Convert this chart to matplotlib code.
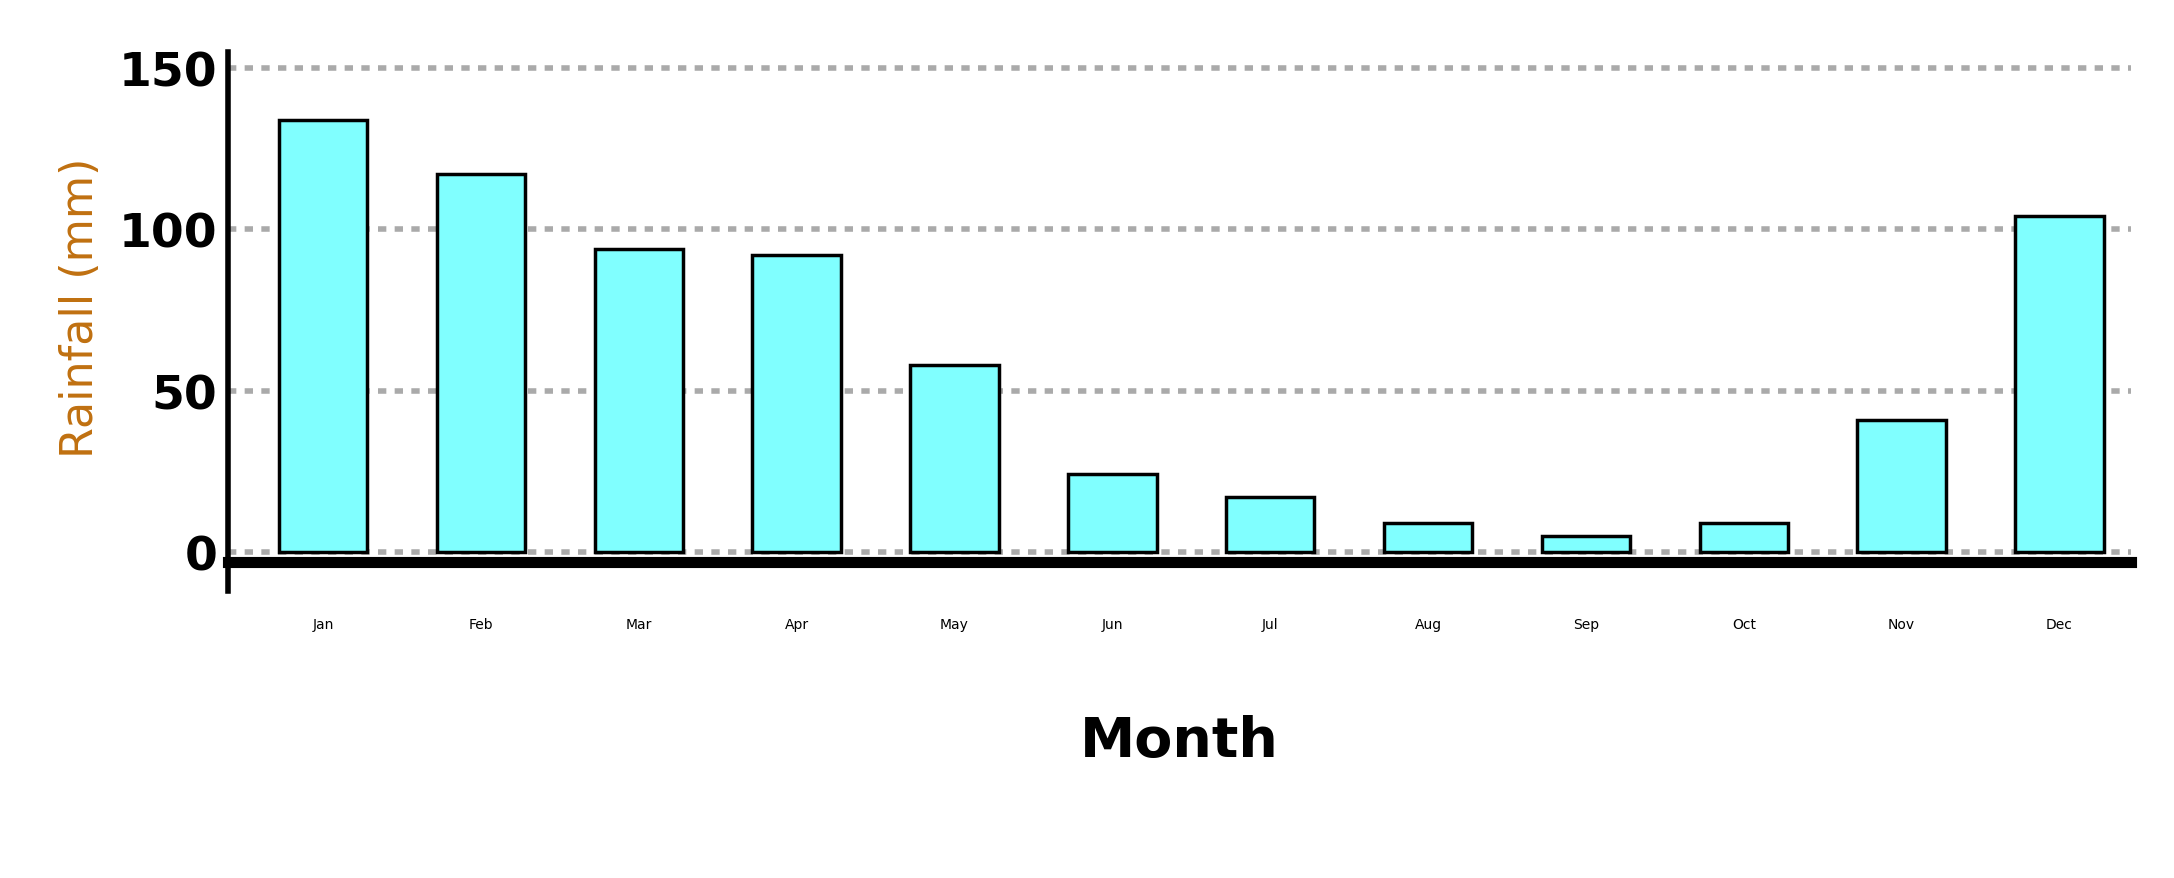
import matplotlib
matplotlib.use("Agg")
import matplotlib.pyplot as plt

months = ["Jan","Feb","Mar","Apr","May","Jun","Jul","Aug","Sep","Oct","Nov","Dec"]
rainfall = [134, 117, 94, 92, 58, 24, 17, 9, 5, 9, 41, 104]

fig = plt.figure(figsize=(21.74, 8.79), dpi=100)
ax = fig.add_axes([0.105, 0.36, 0.875, 0.58])
x = list(range(len(months)))
ax.bar(x, rainfall, width=0.56, color="#80ffff", edgecolor="black", linewidth=2.5, zorder=3)
ax.set_ylim(-3, 155)
ax.set_xlim(-0.6, 11.45)
ax.set_yticks([0, 50, 100, 150])
ax.set_yticklabels(["0", "50", "100", "150"])
ax.set_xticks(x)
ax.set_xticklabels(months)
for lab in ax.get_xticklabels():
    lab.set_fontsize(30)
    lab.set_fontweight("bold")
for lab in ax.get_yticklabels():
    lab.set_fontsize(34)
    lab.set_fontweight("bold")
ax.tick_params(axis="x", length=0, pad=40)
ax.tick_params(axis="y", length=0, pad=8)
ax.yaxis.grid(True, linestyle=(0, (1.5, 1.5)), color="#aaaaaa", linewidth=4, zorder=0)
for s in ["top", "right"]:
    ax.spines[s].set_visible(False)
ax.spines["left"].set_linewidth(4)
ax.spines["bottom"].set_linewidth(8)
ax.spines["bottom"].set_position(("data", -3))
ax.spines["left"].set_bounds(-12, 155)
ax.set_ylabel("Rainfall (mm)", fontsize=32, color="#c07010", labelpad=12)
ax.set_xlabel("Month", fontsize=40, fontweight="bold", labelpad=60)
fig.savefig("out.png", dpi=100, facecolor="white")
